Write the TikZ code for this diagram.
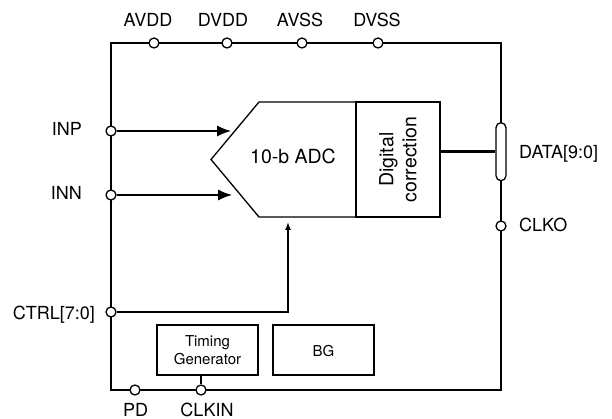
\documentclass[tikz,border=0pt]{standalone}
\usepackage{fontspec}
\setmainfont{TeX Gyre Heros}
\usetikzlibrary{arrows.meta}
\begin{document}
\begin{tikzpicture}[x=1pt,y=-1pt,
  wire/.style={line width=1.3pt},
  pinc/.style={circle,draw,line width=1.3pt,fill=white,inner sep=0pt,minimum size=10pt},
  lbl/.style={inner sep=0pt,font=\fontsize{18}{20}\selectfont},
  inlbl/.style={inner sep=0pt,font=\fontsize{19.5}{23}\selectfont,align=center},
  smlbl/.style={inner sep=0pt,font=\fontsize{15}{18}\selectfont,align=center},
  boxn/.style={draw,line width=1.3pt,inner sep=0pt},
  bigarrow/.style={wire,-{Latex[length=14pt,width=11pt]}},
  smallarrow/.style={wire,-{Latex[length=8pt,width=6pt]}}]
\useasboundingbox (0,0) rectangle (612,419);
% frame
\node[boxn,minimum width=390pt,minimum height=347pt] (chip) at (306,216.5) {};
% ADC body
\coordinate (tip) at (211,159.5);
\coordinate (tl) at (259,102);
\coordinate (bl) at (259,217);
\draw[wire] (tip) -- (tl) -- (440,102) -- (440,217) -- (bl) -- cycle;
\node[boxn,minimum width=84pt,minimum height=115pt] (dc) at (398,159.5) {};
\node[inlbl,rotate=90] (dct) at (dc.center) {Digital\\correction};
\node[inlbl,anchor=base] (adc) at (293,163.3) {10-b ADC};
% small blocks
\node[boxn,minimum width=101pt,minimum height=50pt] (tg) at (207.5,350) {};
\node[smlbl] (tgt) at (tg.center) {Timing\\Generator};
\node[boxn,minimum width=101pt,minimum height=50pt] (bg) at (323.5,350) {};
\node[smlbl,anchor=base] (bgt) at (323.5,356) {BG};
% pins top
\node[pinc] (avdd) at (154,43) {};
\node[pinc] (dvdd) at (227,43) {};
\node[pinc] (avss) at (302,43) {};
\node[pinc] (dvss) at (378,43) {};
\node[lbl,anchor=base] (lavdd) at (148,26.7) {AVDD};
\node[lbl,anchor=base] (ldvdd) at (223,26.7) {DVDD};
\node[lbl,anchor=base] (lavss) at (300,26.7) {AVSS};
\node[lbl,anchor=base] (ldvss) at (377,26.7) {DVSS};
% pins left
\node[pinc] (inp) at (111,131) {};
\node[pinc] (inn) at (111,195) {};
\node[pinc] (ctrl) at (111,312) {};
\node[lbl,anchor=base east] (linp) at (82,135.5) {INP};
\node[lbl,anchor=base east] (linn) at (82,200) {INN};
\node[lbl,anchor=base east] (lctrl) at (95,319.3) {CTRL[7:0]};
% pins bottom
\node[pinc] (pd) at (135,390) {};
\node[pinc] (clkin) at (201,390) {};
\node[lbl,anchor=base] (lpd) at (135.5,416) {PD};
\node[lbl,anchor=base] (lclkin) at (207,416) {CLKIN};
% pins right
\node[draw,line width=1.3pt,fill=white,minimum width=10pt,minimum height=58pt,rounded corners=5pt,inner sep=0pt] (bus) at (501,151.7) {};
\node[pinc] (clko) at (501,226) {};
\node[lbl,anchor=base west] (ldata) at (519,158.3) {DATA[9:0]};
\node[lbl,anchor=base west] (lclko) at (519,231.7) {CLKO};
% connectors
\coordinate (inpEnd) at (231,131);
\coordinate (innEnd) at (232,195);
\coordinate (ctrlEnd) at (288,222);
\draw[bigarrow] (inp.east) -- (inpEnd);
\draw[bigarrow] (inn.east) -- (innEnd);
\draw[smallarrow] (ctrl.east) -| (ctrlEnd);
\draw[line width=3pt] (dc.east |- bus.west) -- (bus.west);
\draw[wire] (clkin |- tg.south) -- (clkin.north);
\end{tikzpicture}
\end{document}
